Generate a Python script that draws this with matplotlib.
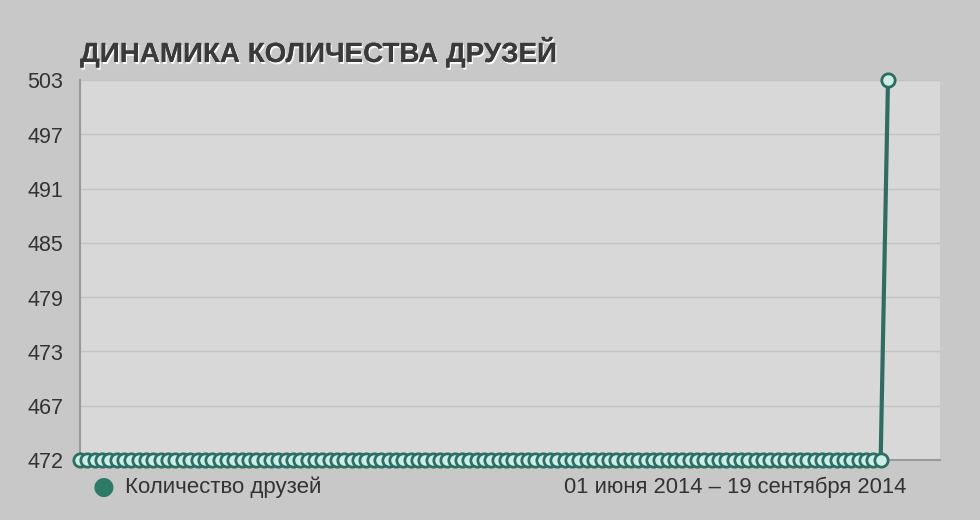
import matplotlib
matplotlib.use("Agg")
import matplotlib.pyplot as plt
import matplotlib.patheffects as pe
import matplotlib.transforms as mtrans
import numpy as np
import pandas as pd

plt.rcParams['font.family'] = ['Liberation Sans', 'DejaVu Sans']

title = "ДИНАМИКА КОЛИЧЕСТВА ДРУЗЕЙ"
series_name = "Количество друзей"
period_text = "01 июня 2014 – 19 сентября 2014"
dates = pd.date_range("2014-06-01", "2014-09-19", freq="D")
friends = [
    472, 472, 472, 472, 472, 472, 472, 472, 472, 472,
    472, 472, 472, 472, 472, 472, 472, 472, 472, 472,
    472, 472, 472, 472, 472, 472, 472, 472, 472, 472,
    472, 472, 472, 472, 472, 472, 472, 472, 472, 472,
    472, 472, 472, 472, 472, 472, 472, 472, 472, 472,
    472, 472, 472, 472, 472, 472, 472, 472, 472, 472,
    472, 472, 472, 472, 472, 472, 472, 472, 472, 472,
    472, 472, 472, 472, 472, 472, 472, 472, 472, 472,
    472, 472, 472, 472, 472, 472, 472, 472, 472, 472,
    472, 472, 472, 472, 472, 472, 472, 472, 472, 472,
    472, 472, 472, 472, 472, 472, 472, 472, 472, 472,
    503,
]
ytick_labels = ["472", "467", "473", "479", "485", "491", "497", "503"]

outer_bg = "#c9c8c8"
plot_bg = "#d9d8d8"
line_col = "#2c6e62"
face_col = "#cdeee6"

fig = plt.figure(figsize=(9.8, 5.2), dpi=100, facecolor=outer_bg)
ax = fig.add_axes([80 / 980, 1 - 460 / 520, 860 / 980, 380 / 520])
ax.set_facecolor(plot_bg)

x = np.arange(len(friends))
ax.plot(x, friends, color=line_col, lw=3, marker="o", ms=9.6,
        mfc=face_col, mec=line_col, mew=2.0, clip_on=False, zorder=5)

ymin, ymax = 472, 503
ax.set_ylim(ymin, ymax)
ax.set_xlim(0, (len(friends) - 1) * 860 / 808)
yt = np.linspace(ymin, ymax, len(ytick_labels))
ax.set_yticks(yt)
ax.set_yticklabels(ytick_labels)
ax.set_xticks([])
ax.tick_params(axis="y", length=0, pad=12, labelsize=15.5, labelcolor="#333333")
shift = mtrans.ScaledTranslation(0, -3 / 100, fig.dpi_scale_trans)
for lbl in ax.get_yticklabels():
    lbl.set_va("center")
    lbl.set_transform(lbl.get_transform() + shift)
ax.grid(axis="y", color="#c4c3c3", lw=1)
ax.set_axisbelow(True)

for s in ["top", "right"]:
    ax.spines[s].set_visible(False)
ax.spines["left"].set_color("#9a9a9a")
ax.spines["left"].set_linewidth(1.5)
ax.spines["bottom"].set_color("#9a9a9a")
ax.spines["bottom"].set_linewidth(1.5)

fig.text(80 / 980, 1 - 62 / 520, title, fontsize=20, fontweight="bold",
         color="#3a3a3a",
         path_effects=[pe.withSimplePatchShadow(offset=(1, -1.5), shadow_rgbFace="white", alpha=0.9),
                       pe.Normal()])

fig.text(104 / 980, 1 - 487 / 520, "●", fontsize=18, color="#2e7a6a",
         ha="center", va="center", family=["DejaVu Sans"])
fig.text(125 / 980, 1 - 487 / 520, series_name, fontsize=16, color="#333333",
         ha="left", va="center")
fig.text(906 / 980, 1 - 487 / 520, period_text, fontsize=15.8, color="#333333",
         ha="right", va="center")

fig.savefig("out.png", dpi=100, facecolor=outer_bg)
